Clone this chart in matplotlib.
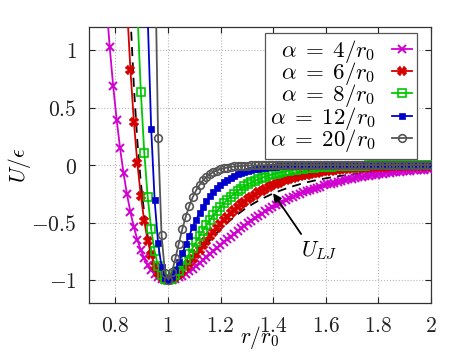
import matplotlib
matplotlib.use('Agg')
import matplotlib.pyplot as plt

plt.rcParams['mathtext.fontset'] = 'cm'
plt.rcParams['font.family'] = 'DejaVu Serif'
plt.rcParams['font.size'] = 15.5

# r/r0 sample points (100 points from 0.7 to 2)
r = [0.7000, 0.7131, 0.7263, 0.7394, 0.7525, 0.7657, 0.7788, 0.7919, 0.8051, 0.8182,
     0.8313, 0.8444, 0.8576, 0.8707, 0.8838, 0.8970, 0.9101, 0.9232, 0.9364, 0.9495,
     0.9626, 0.9758, 0.9889, 1.0020, 1.0152, 1.0283, 1.0414, 1.0545, 1.0677, 1.0808,
     1.0939, 1.1071, 1.1202, 1.1333, 1.1465, 1.1596, 1.1727, 1.1859, 1.1990, 1.2121,
     1.2253, 1.2384, 1.2515, 1.2646, 1.2778, 1.2909, 1.3040, 1.3172, 1.3303, 1.3434,
     1.3566, 1.3697, 1.3828, 1.3960, 1.4091, 1.4222, 1.4354, 1.4485, 1.4616, 1.4747,
     1.4879, 1.5010, 1.5141, 1.5273, 1.5404, 1.5535, 1.5667, 1.5798, 1.5929, 1.6061,
     1.6192, 1.6323, 1.6455, 1.6586, 1.6717, 1.6848, 1.6980, 1.7111, 1.7242, 1.7374,
     1.7505, 1.7636, 1.7768, 1.7899, 1.8030, 1.8162, 1.8293, 1.8424, 1.8556, 1.8687,
     1.8818, 1.8949, 1.9081, 1.9212, 1.9343, 1.9475, 1.9606, 1.9737, 1.9869, 2.0000]

# U/eps values, each list ends at r = 2 (starts where the curve enters from the top)
u_a4 = [1.413, 1.024, 0.686, 0.395, 0.144, -0.072, -0.255, -0.411, -0.541, -0.650,
        -0.740, -0.813, -0.871, -0.916, -0.950, -0.974, -0.990, -0.998, -1.000, -0.997,
        -0.989, -0.977, -0.962, -0.944, -0.924, -0.902, -0.879, -0.854, -0.829, -0.803,
        -0.777, -0.751, -0.725, -0.699, -0.673, -0.647, -0.622, -0.598, -0.574, -0.550,
        -0.527, -0.505, -0.483, -0.462, -0.442, -0.423, -0.404, -0.386, -0.368, -0.351,
        -0.335, -0.320, -0.305, -0.291, -0.277, -0.264, -0.251, -0.239, -0.228, -0.217,
        -0.207, -0.197, -0.187, -0.178, -0.169, -0.161, -0.153, -0.146, -0.138, -0.132,
        -0.125, -0.119, -0.113, -0.107, -0.102, -0.097, -0.092, -0.087, -0.083, -0.079,
        -0.075, -0.071, -0.068, -0.064, -0.061, -0.058, -0.055, -0.052, -0.050, -0.047,
        -0.045, -0.042, -0.040, -0.038, -0.036]

u_a6 = [1.381, 0.823, 0.374, 0.015, -0.268, -0.489, -0.658, -0.784, -0.875, -0.937,
        -0.975, -0.995, -1.000, -0.992, -0.976, -0.952, -0.922, -0.889, -0.852, -0.814,
        -0.775, -0.736, -0.697, -0.658, -0.620, -0.584, -0.548, -0.514, -0.482, -0.451,
        -0.421, -0.393, -0.367, -0.342, -0.319, -0.297, -0.276, -0.257, -0.239, -0.222,
        -0.206, -0.191, -0.177, -0.164, -0.153, -0.141, -0.131, -0.121, -0.113, -0.104,
        -0.097, -0.089, -0.083, -0.077, -0.071, -0.066, -0.061, -0.056, -0.052, -0.048,
        -0.045, -0.041, -0.038, -0.035, -0.033, -0.030, -0.028, -0.026, -0.024, -0.022,
        -0.020, -0.019, -0.017, -0.016, -0.015, -0.014, -0.013, -0.012, -0.011, -0.010,
        -0.009, -0.009, -0.008, -0.007, -0.007, -0.006, -0.006, -0.005, -0.005]

u_a8 = [1.349, 0.639, 0.108, -0.281, -0.559, -0.752, -0.879, -0.954, -0.991, -1.000,
        -0.987, -0.959, -0.920, -0.875, -0.825, -0.773, -0.721, -0.669, -0.618, -0.570,
        -0.524, -0.480, -0.439, -0.401, -0.366, -0.333, -0.303, -0.275, -0.250, -0.226,
        -0.205, -0.186, -0.168, -0.152, -0.137, -0.124, -0.112, -0.101, -0.091, -0.082,
        -0.074, -0.067, -0.061, -0.055, -0.049, -0.044, -0.040, -0.036, -0.032, -0.029,
        -0.026, -0.024, -0.021, -0.019, -0.017, -0.016, -0.014, -0.013, -0.011, -0.010,
        -0.009, -0.008, -0.008, -0.007, -0.006, -0.005, -0.005, -0.004, -0.004, -0.004,
        -0.003, -0.003, -0.003, -0.002, -0.002, -0.002, -0.002, -0.002, -0.001, -0.001,
        -0.001, -0.001, -0.001, -0.001, -0.001, -0.001]

u_a12 = [1.287, 0.313, -0.306, -0.680, -0.886, -0.980, -0.999, -0.972, -0.917, -0.847,
         -0.769, -0.691, -0.615, -0.543, -0.477, -0.417, -0.363, -0.315, -0.273, -0.236,
         -0.203, -0.175, -0.151, -0.130, -0.111, -0.095, -0.082, -0.070, -0.060, -0.051,
         -0.044, -0.038, -0.032, -0.028, -0.024, -0.020, -0.017, -0.015, -0.013, -0.011,
         -0.009, -0.008, -0.007, -0.006, -0.005, -0.004, -0.004, -0.003, -0.003, -0.002,
         -0.002, -0.002, -0.001, -0.001, -0.001, -0.001, -0.001, -0.001, -0.001, 0.0,
         0.0, 0.0, 0.0, 0.0, 0.0, 0.0, 0.0, 0.0, 0.0, 0.0,
         0.0, 0.0, 0.0, 0.0, 0.0, 0.0, 0.0, 0.0, 0.0, 0.0,
         0.0, 0.0, 0.0]

u_a20 = [2.048, 0.236, -0.611, -0.938, -0.998, -0.932, -0.813, -0.683, -0.559, -0.450,
         -0.358, -0.282, -0.221, -0.173, -0.134, -0.104, -0.080, -0.062, -0.048, -0.037,
         -0.029, -0.022, -0.017, -0.013, -0.010, -0.008, -0.006, -0.005, -0.004, -0.003,
         -0.002, -0.002, -0.001, -0.001, -0.001, -0.001, 0.0, 0.0, 0.0, 0.0,
         0.0, 0.0, 0.0, 0.0, 0.0, 0.0, 0.0, 0.0, 0.0, 0.0,
         0.0, 0.0, 0.0, 0.0, 0.0, 0.0, 0.0, 0.0, 0.0, 0.0,
         0.0, 0.0, 0.0, 0.0, 0.0, 0.0, 0.0, 0.0, 0.0, 0.0,
         0.0, 0.0, 0.0, 0.0, 0.0, 0.0, 0.0, 0.0, 0.0, 0.0,
         0.0]

# Lennard-Jones reference (dashed)
u_lj = [1.292, 0.677, 0.205, -0.153, -0.423, -0.622, -0.766, -0.867, -0.934, -0.975,
        -0.995, -1.000, -0.993, -0.976, -0.953, -0.926, -0.894, -0.861, -0.827, -0.791,
        -0.756, -0.721, -0.687, -0.653, -0.621, -0.590, -0.560, -0.531, -0.504, -0.478,
        -0.453, -0.429, -0.407, -0.385, -0.365, -0.346, -0.328, -0.311, -0.295, -0.280,
        -0.266, -0.252, -0.239, -0.227, -0.216, -0.205, -0.195, -0.185, -0.176, -0.167,
        -0.159, -0.151, -0.144, -0.137, -0.131, -0.125, -0.119, -0.113, -0.108, -0.103,
        -0.098, -0.094, -0.090, -0.086, -0.082, -0.078, -0.075, -0.071, -0.068, -0.065,
        -0.063, -0.060, -0.057, -0.055, -0.053, -0.050, -0.048, -0.046, -0.045, -0.043,
        -0.041, -0.039, -0.038, -0.036, -0.035, -0.034, -0.032, -0.031]

labels = [r'$\alpha\;=\;4/r_0$', r'$\alpha\;=\;6/r_0$', r'$\alpha\;=\;8/r_0$',
          r'$\alpha\;=\;12/r_0$', r'$\alpha\;=\;20/r_0$']
xticks = [0.8, 1.0, 1.2, 1.4, 1.6, 1.8, 2.0]
xticklabels = ['0.8', '1', '1.2', '1.4', '1.6', '1.8', '2']
yticks = [-1.0, -0.5, 0.0, 0.5, 1.0]
yticklabels = ['-1', '-0.5', '0', '0.5', '1']


def rpart(u):
    # every series ends at r = 2
    return r[len(r) - len(u):]


fig = plt.figure(figsize=(4.73, 3.55), dpi=100)
ax = fig.add_axes([89 / 473, 52 / 355, 342 / 473, 276 / 355])

ax.plot(rpart(u_lj), u_lj, color='black', lw=1.3, ls=(0, (5, 3.5)), zorder=2)

styles = [
    dict(color='#d000d0', marker='x', ms=5.5, mew=1.4),
    dict(color='#d40000', marker='X', ms=6.5, mew=0.3),
    dict(color='#00c800', marker='s', ms=5.5, mew=1.2, mfc='none'),
    dict(color='#0000cc', marker='s', ms=4.5, mew=0.5),
    dict(color='#555555', marker='o', ms=5.5, mew=1.2, mfc='none'),
]
handles = []
for u, lab, st in zip([u_a4, u_a6, u_a8, u_a12, u_a20], labels, styles):
    ln, = ax.plot(rpart(u), u, lw=1.3, label=lab, zorder=3, **st)
    handles.append(ln)

ax.annotate(r'$U_{LJ}$', xy=(1.4, -0.245), xytext=(1.575, -0.74),
            ha='center', va='center',
            arrowprops=dict(arrowstyle='-|>', color='black', lw=1.3,
                            mutation_scale=12, relpos=(0.1, 1.0),
                            shrinkA=2, shrinkB=0))

ax.set_xlim(0.7, 2.0)
ax.set_ylim(-1.2, 1.2)
ax.set_xticks(xticks)
ax.set_xticklabels(['$' + t + '$' for t in xticklabels])
ax.set_yticks(yticks)
ax.set_yticklabels(['$' + t + '$' for t in yticklabels])
ax.tick_params(direction='in', top=True, right=True, length=4, width=0.8,
               pad=9, colors='#222222')
ax.grid(True, linestyle=':', color='#b8b8b8', lw=0.8)
ax.set_axisbelow(True)
for sp in ax.spines.values():
    sp.set_color('#333333')
    sp.set_linewidth(0.9)

ax.set_xlabel(r'$r/r_0$')
ax.xaxis.set_label_coords(0.5, -0.075)
ax.set_ylabel(r'$U/\epsilon$')
ax.yaxis.set_label_coords(-0.165, 0.5)

leg = ax.legend(handles=handles, loc='upper right', bbox_to_anchor=(0.959, 0.978),
                borderaxespad=0, markerfirst=False, numpoints=1,
                handlelength=0.9, handletextpad=0.7, labelspacing=-0.2,
                borderpad=0.2, fancybox=False, framealpha=1, fontsize=16.5)
leg.get_frame().set_edgecolor('#555555')
leg.get_frame().set_linewidth(0.9)

fig.savefig('out.png', dpi=100)
